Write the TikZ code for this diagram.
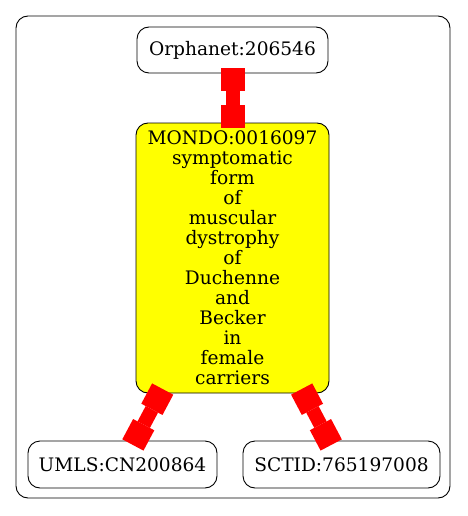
\documentclass[tikz,border=0pt]{standalone}
\usepackage{fontspec}
\setmainfont{DejaVu Serif}
\usetikzlibrary{arrows.meta}
\definecolor{pureyellow}{RGB}{255,255,0}
\definecolor{purered}{RGB}{255,0,0}
\tikzset{
  box/.style={draw=black, line width=0.9pt, rounded corners=12pt, inner sep=0pt, align=center,
    font=\fontsize{18.6}{20}\selectfont},
  edge/.style={draw=purered, line width=14pt,
    {Rectangle[length=23pt,width=24pt,line width=0pt]}-{Rectangle[length=23pt,width=24pt,line width=0pt]},
    shorten <=-5pt, shorten >=-5pt},
  frame/.style={draw=black, line width=0.9pt, rounded corners=12pt}
}
\begin{document}
\begin{tikzpicture}[x=1pt,y=-1pt]
\useasboundingbox (0,0) rectangle (467,516);
\draw[frame] (16,16) rectangle (450,498);
\node[box, minimum width=191pt, minimum height=46pt] (orph) at (232.5,50) {Orphanet:206546};
\node[box, fill=pureyellow, minimum width=193pt, minimum height=270pt] (mondo) at (232.5,258)
  {MONDO:0016097\\symptomatic\\form\\of\\muscular\\dystrophy\\of\\Duchenne\\and\\Becker\\in\\female\\carriers};
\node[box, minimum width=189pt, minimum height=47pt] (umls) at (122.5,464.5) {UMLS:CN200864};
\node[box, minimum width=197pt, minimum height=47pt] (sct) at (341.5,464.5) {SCTID:765197008};
\draw[edge] (orph) -- (mondo);
\draw[edge] (mondo) -- (umls);
\draw[edge] (mondo) -- (sct);
\end{tikzpicture}
\end{document}
